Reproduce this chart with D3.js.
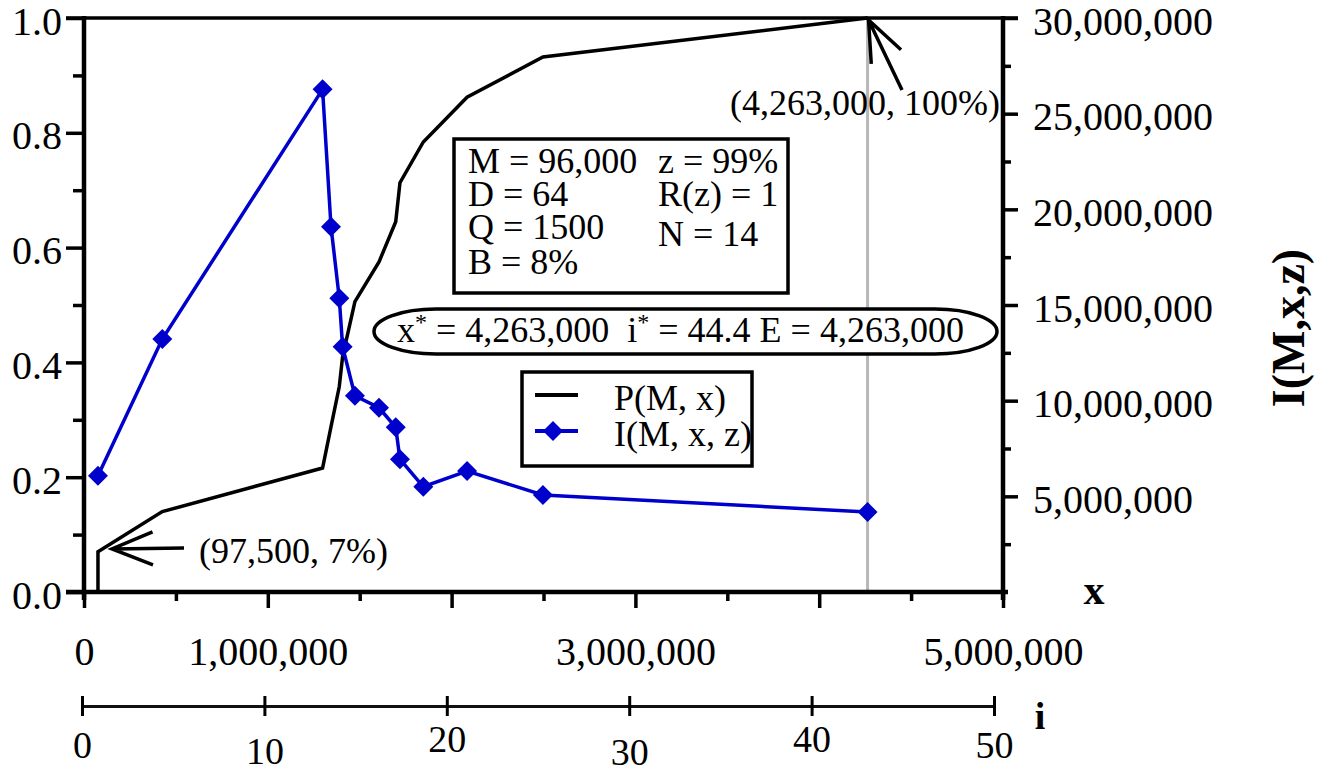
<!DOCTYPE html>
<html>
<head>
<meta charset="utf-8">
<script src="https://cdn.jsdelivr.net/npm/d3@7"></script>
<style>
  body { margin: 0; background: #fff; }
  svg { display: block; }
  text { font-family: "Liberation Serif", "Times New Roman", serif; fill: #000; }
</style>
</head>
<body>
<div id="chart"></div>
<script>
// data
var xValues = [76000, 426000, 1298000, 1344000, 1389000, 1407000, 1474000, 1605000, 1696000, 1719000, 1846000, 2084000, 2497000, 4263000];
var pValues = [0.07, 0.14, 0.216, 0.288, 0.358, 0.41, 0.506, 0.575, 0.645, 0.713, 0.784, 0.862, 0.932, 1.0];
var iValues = [6080000, 13220000, 26270000, 19090000, 15350000, 12820000, 10260000, 9630000, 8610000, 6940000, 5500000, 6320000, 5070000, 4180000];
var pStart = 0;

var yLeftTicks = [0, 0.2, 0.4, 0.6, 0.8, 1.0];
var yLeftMinor = [0.1, 0.3, 0.5, 0.7, 0.9];
var yRightTicks = [5000000, 10000000, 15000000, 20000000, 25000000, 30000000];
var yRightMinor = [2500000, 7500000, 12500000, 17500000, 22500000, 27500000];
var xTicks = [0, 1000000, 2000000, 3000000, 4000000, 5000000];
var xTickLabels = ["0", "1,000,000", "", "3,000,000", "", "5,000,000"];
var xMinor = [500000, 1500000, 2500000, 3500000, 4500000];
var iTicks = [0, 10, 20, 30, 40, 50];

var paramsLeft = ["M = 96,000", "D = 64", "Q = 1500", "B = 8%"];
var paramsRight = ["z = 99%", "R(z) = 1", "N = 14"];
var xStar = 4263000;

var blue = "#0000cc";

var svg = d3.select("#chart").append("svg")
    .attr("width", 1331)
    .attr("height", 773);

var x = d3.scaleLinear().domain([0, 5000000]).range([84, 1003]);
var yL = d3.scaleLinear().domain([0, 1]).range([592, 18]);
var yR = d3.scaleLinear().domain([0, 30000000]).range([592, 18]);
var iScale = d3.scaleLinear().domain([0, 50]).range([82, 994]);

function styleAxis(g, fontSize) {
    g.select(".domain").remove();
    g.selectAll(".tick line").attr("stroke", "#000").attr("stroke-width", 3.5);
    g.selectAll(".tick text")
        .attr("font-family", "Liberation Serif")
        .attr("font-size", fontSize)
        .attr("fill", "#000");
}

// x* marker line
svg.append("line")
    .attr("x1", x(xStar)).attr("x2", x(xStar))
    .attr("y1", yL(1)).attr("y2", yL(0))
    .attr("stroke", "#b8b8b8").attr("stroke-width", 3);

// left axis
var gL = svg.append("g").attr("transform", "translate(84,0)")
    .call(d3.axisLeft(yL).tickValues(yLeftTicks).tickSize(18).tickPadding(4).tickFormat(d3.format(".1f")));
styleAxis(gL, 40);
gL.selectAll(".tick text").attr("dy", "0.4em");
var gLm = svg.append("g").attr("transform", "translate(84,0)")
    .call(d3.axisLeft(yL).tickValues(yLeftMinor).tickSize(11).tickFormat(""));
styleAxis(gLm, 40);

// right axis
var gR = svg.append("g").attr("transform", "translate(1003,0)")
    .call(d3.axisRight(yR).tickValues(yRightTicks).tickSize(15).tickPadding(15).tickFormat(d3.format(",")));
styleAxis(gR, 40);
gR.selectAll(".tick text").attr("dy", "0.4em");
var gRm = svg.append("g").attr("transform", "translate(1003,0)")
    .call(d3.axisRight(yR).tickValues(yRightMinor).tickSize(8).tickFormat(""));
styleAxis(gRm, 40);

// bottom x axis
var gX = svg.append("g").attr("transform", "translate(0,592)")
    .call(d3.axisBottom(x).tickValues(xTicks).tickSize(16).tickPadding(29)
        .tickFormat(function (d, i) { return xTickLabels[i]; }));
styleAxis(gX, 40);
var gXm = svg.append("g").attr("transform", "translate(0,592)")
    .call(d3.axisBottom(x).tickValues(xMinor).tickSize(9).tickFormat(""));
styleAxis(gXm, 40);

// frame lines
svg.append("line").attr("x1", 84).attr("x2", 84).attr("y1", 16).attr("y2", 600)
    .attr("stroke", "#000").attr("stroke-width", 4.5);
svg.append("line").attr("x1", 1003).attr("x2", 1003).attr("y1", 16).attr("y2", 600)
    .attr("stroke", "#000").attr("stroke-width", 4.5);
svg.append("line").attr("x1", 66).attr("x2", 1008).attr("y1", 592).attr("y2", 592)
    .attr("stroke", "#000").attr("stroke-width", 4.5);
svg.append("line").attr("x1", 66).attr("x2", 1018).attr("y1", 18).attr("y2", 18)
    .attr("stroke", "#000").attr("stroke-width", 3.5);

// i axis (labels sit a little staggered in the original)
var iLabelShift = [0, 6, -6, 7, -6, 0];
var gI = svg.append("g").attr("transform", "translate(0,706)")
    .call(d3.axisBottom(iScale).tickValues(iTicks).tickSize(10).tickPadding(12).tickSizeOuter(0));
gI.select(".domain").attr("stroke", "#111").attr("stroke-width", 3);
gI.selectAll(".tick line").attr("y1", -10).attr("stroke", "#000").attr("stroke-width", 3);
gI.selectAll(".tick text").attr("font-family", "Liberation Serif").attr("font-size", 38).attr("fill", "#000")
    .attr("dy", function (d, i) { return (29.6 + iLabelShift[i]) + "px"; });

// P(M, x) line
var pPoints = [[xValues[0], pStart]].concat(xValues.map(function (d, i) { return [d, pValues[i]]; }));
var pLine = d3.line().x(function (d) { return x(d[0]); }).y(function (d) { return yL(d[1]); });
svg.append("path").datum(pPoints)
    .attr("d", pLine)
    .attr("fill", "none").attr("stroke", "#000").attr("stroke-width", 3.5)
    .attr("stroke-linejoin", "miter");

// I(M, x, z) line + diamonds
var iPoints = xValues.map(function (d, i) { return [d, iValues[i]]; });
var iLine = d3.line().x(function (d) { return x(d[0]); }).y(function (d) { return yR(d[1]); });
svg.append("path").datum(iPoints)
    .attr("d", iLine)
    .attr("fill", "none").attr("stroke", blue).attr("stroke-width", 3.5);

var diamond = d3.symbol().type(d3.symbolSquare).size(200);
svg.selectAll(".mark").data(iPoints).enter().append("path")
    .attr("class", "mark")
    .attr("d", diamond)
    .attr("fill", blue)
    .attr("transform", function (d) { return "translate(" + x(d[0]) + "," + yR(d[1]) + ") rotate(45)"; });

// arrows
function arrow(x1, y1, x2, y2) {
    // tip at x2,y2
    var ang = Math.atan2(y1 - y2, x1 - x2);
    var len = 44, spread = 22 * Math.PI / 180;
    var a1 = [x2 + len * Math.cos(ang - spread), y2 + len * Math.sin(ang - spread)];
    var a2 = [x2 + len * Math.cos(ang + spread), y2 + len * Math.sin(ang + spread)];
    svg.append("path")
        .attr("d", "M" + x1 + "," + y1 + "L" + x2 + "," + y2 + "M" + a1 + "L" + x2 + "," + y2 + "L" + a2)
        .attr("fill", "none").attr("stroke", "#000").attr("stroke-width", 3.5);
}
arrow(184, 548, x(xValues[0]) + 14, 549);
arrow(902, 90, x(xStar) + 1, 20);

svg.append("text").attr("x", 199).attr("y", 563).attr("font-size", 36).text("(97,500, 7%)");
svg.append("text").attr("x", 1000).attr("y", 115).attr("text-anchor", "end").attr("font-size", 36).text("(4,263,000, 100%)");

// parameter box
svg.append("rect").attr("x", 454).attr("y", 139).attr("width", 334).attr("height", 154)
    .attr("fill", "#fff").attr("stroke", "#000").attr("stroke-width", 3.5);
var leftBase = [173, 206, 239, 274];
var rightBase = [173, 206, 246];
var tl = svg.append("text").attr("font-size", 36);
tl.selectAll("tspan").data(paramsLeft).enter().append("tspan")
    .attr("x", 468).attr("y", function (d, i) { return leftBase[i]; })
    .text(function (d) { return d; });
var tr = svg.append("text").attr("font-size", 36);
tr.selectAll("tspan").data(paramsRight).enter().append("tspan")
    .attr("x", 658).attr("y", function (d, i) { return rightBase[i]; })
    .text(function (d) { return d; });

// result pill
svg.append("rect").attr("x", 374).attr("y", 309).attr("width", 623).attr("height", 45)
    .attr("rx", 62).attr("ry", 22.5)
    .attr("fill", "#fff").attr("stroke", "#000").attr("stroke-width", 3.5);
var res = svg.append("text").attr("x", 397).attr("y", 342).attr("font-size", 36)
    .attr("xml:space", "preserve");
res.append("tspan").text("x");
res.append("tspan").attr("font-size", 24).attr("dy", -12).text("*");
res.append("tspan").attr("dy", 12).text(" = " + d3.format(",")(xStar) + "  i");
res.append("tspan").attr("font-size", 24).attr("dy", -12).text("*");
res.append("tspan").attr("dy", 12).text(" = 44.4 E = " + d3.format(",")(xStar));

// legend
svg.append("rect").attr("x", 522).attr("y", 372).attr("width", 230).attr("height", 94)
    .attr("fill", "#fff").attr("stroke", "#000").attr("stroke-width", 3.5);
svg.append("line").attr("x1", 535).attr("x2", 578).attr("y1", 395).attr("y2", 395)
    .attr("stroke", "#000").attr("stroke-width", 4);
svg.append("line").attr("x1", 535).attr("x2", 578).attr("y1", 431).attr("y2", 431)
    .attr("stroke", blue).attr("stroke-width", 4);
svg.append("path").attr("d", diamond).attr("fill", blue)
    .attr("transform", "translate(553,431) rotate(45)");
svg.append("text").attr("x", 614).attr("y", 410).attr("font-size", 36).text("P(M, x)");
svg.append("text").attr("x", 614).attr("y", 446).attr("font-size", 36).text("I(M, x, z)");

// axis titles
svg.append("text").attr("x", 1094).attr("y", 604).attr("text-anchor", "middle")
    .attr("font-size", 42).attr("font-weight", "bold").text("x");
svg.append("text").attr("x", 1040).attr("y", 729).attr("text-anchor", "middle")
    .attr("font-size", 38).attr("font-weight", "bold").text("i");
svg.append("text").attr("transform", "translate(1304,328) rotate(-90)")
    .attr("text-anchor", "middle").attr("font-size", 46).attr("font-weight", "bold").text("I(M,x,z)");
</script>
</body>
</html>
